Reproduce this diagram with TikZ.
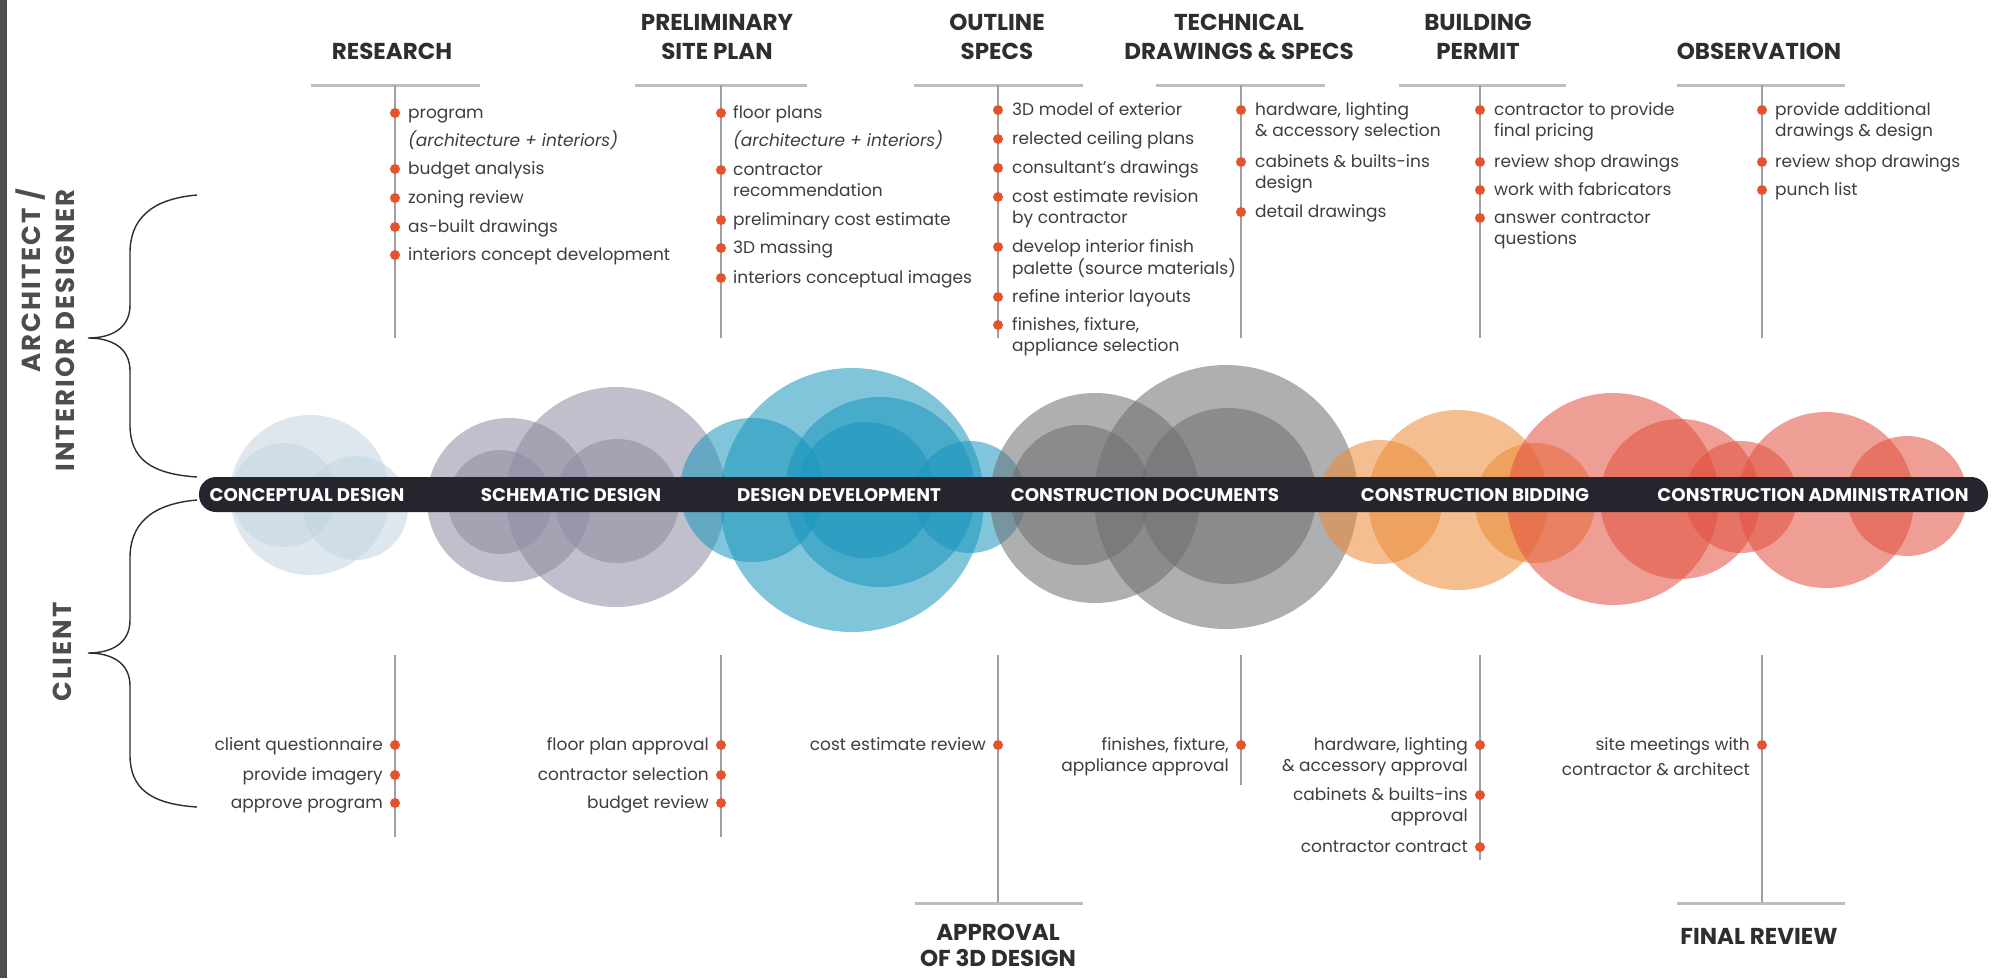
\documentclass[tikz,border=0pt]{standalone}
\usepackage{fontspec}
\setmainfont{Poppins}
\usetikzlibrary{positioning}

\definecolor{ink}{HTML}{2E2E30}
\definecolor{itemink}{HTML}{3E3E40}
\definecolor{dotred}{HTML}{E5522E}
\definecolor{stemgray}{HTML}{A0A0A0}
\definecolor{rulegray}{HTML}{BEBEBE}
\definecolor{barink}{HTML}{24252D}
\definecolor{edgegray}{HTML}{4E4E50}
\definecolor{frost}{HTML}{C4D5E1}
\definecolor{lilac}{HTML}{8E8CA2}
\definecolor{lagoon}{HTML}{1A96BD}
\definecolor{slate}{HTML}{6D6E70}
\definecolor{amber}{HTML}{EC8A35}
\definecolor{coral}{HTML}{E2503F}

\newcommand{\lft}[1]{\begin{tabular}[t]{@{}l@{}}#1\end{tabular}}
\newcommand{\rgt}[1]{\begin{tabular}[t]{@{}r@{}}#1\end{tabular}}

\begin{document}
\begin{tikzpicture}[
    x=1pt, y=-1pt,
    heading/.style={font=\fontsize{23}{29}\selectfont\bfseries, text=ink, align=center, inner sep=0pt},
    item/.style={font=\fontsize{17}{21}\selectfont, text=itemink, anchor=base west, inner sep=0pt},
    citem/.style={item, anchor=base east},
    dot/.style={circle, fill=dotred, inner sep=0pt, minimum size=10pt},
    stem/.style={draw=stemgray, line width=1.3pt},
    rule/.style={draw=rulegray, line width=3pt},
    bubble/.style={fill opacity=0.55},
    phase/.style={font=\fontsize{18.3}{20}\selectfont\bfseries, text=white, inner sep=0pt},
    party/.style={font=\fontsize{26}{34}\selectfont\bfseries\addfontfeatures{LetterSpace=8}, text=ink!85, rotate=90, align=right, inner sep=0pt},
    brace/.style={draw=ink, line width=1.4pt}
]
    \useasboundingbox (0,0) rectangle (2011,978);
    \fill[white] (0,0) rectangle (2011,978);
    \fill[edgegray] (0,0) rectangle (7,978);

    % Bubbles behind the timeline
    \foreach \cx/\cy/\r in {310/495/80pt, 284/495/52pt, 356/508/52pt}
        \fill[frost, bubble] (\cx,\cy) circle [radius=\r];
    \foreach \cx/\cy/\r in {509/500/82pt, 616/497/110pt, 500/502/52pt, 617/501/62pt}
        \fill[lilac, bubble] (\cx,\cy) circle [radius=\r];
    \foreach \cx/\cy/\r in {852/500/132pt, 752/490/72pt, 880/492/95pt, 866/490/68pt, 970/497/56pt}
        \fill[lagoon, bubble] (\cx,\cy) circle [radius=\r];
    \foreach \cx/\cy/\r in {1095/498/105pt, 1226/497/132pt, 1080/495/70pt, 1228/496/88pt}
        \fill[slate, bubble] (\cx,\cy) circle [radius=\r];
    \foreach \cx/\cy/\r in {1380/502/62pt, 1458/500/90pt, 1535/503/60pt}
        \fill[amber, bubble] (\cx,\cy) circle [radius=\r];
    \foreach \cx/\cy/\r in {1613/499/106pt, 1680/499/80pt, 1741/497/56pt, 1826/500/88pt, 1907/496/60pt}
        \fill[coral, bubble] (\cx,\cy) circle [radius=\r];

    % Timeline
    \fill[barink, rounded corners=17pt] (199,477) rectangle (1988,512);
    \node[phase] (concept) at (307,495) {CONCEPTUAL DESIGN};
    \node[phase] (schematic) at (571,495) {SCHEMATIC DESIGN};
    \node[phase] (develop) at (839,495) {DESIGN DEVELOPMENT};
    \node[phase] (documents) at (1145,495) {CONSTRUCTION DOCUMENTS};
    \node[phase] (bidding) at (1475,495) {CONSTRUCTION BIDDING};
    \node[phase] (admin) at (1813,495) {CONSTRUCTION ADMINISTRATION};

    % Parties
    \node[party, anchor=east] (designer) at (45,189) {ARCHITECT /\\INTERIOR DESIGNER};
    \node[party] (client) at (62,652) {CLIENT};
    \draw[brace] (197,195) .. controls (150,199) and (130,220) .. (130,253)
        -- (130,305) .. controls (130,328) and (112,338) .. (88,338)
        .. controls (112,338) and (130,348) .. (130,371)
        -- (130,425) .. controls (130,458) and (150,474) .. (197,477);
    \draw[brace] (197,500) .. controls (150,504) and (130,525) .. (130,558)
        -- (130,620) .. controls (130,643) and (112,653) .. (88,653)
        .. controls (112,653) and (130,663) .. (130,686)
        -- (130,755) .. controls (130,788) and (150,804) .. (197,807);

    % Headings over the stems
    \foreach \n/\x/\hx/\t/\rl/\rr in {res/395/392/RESEARCH/311/480,
            pre/721/717/{PRELIMINARY\\SITE PLAN}/635/807,
            out/998/997/{OUTLINE\\SPECS}/914/1083,
            tec/1241/1239/{TECHNICAL\\DRAWINGS \& SPECS}/1156/1325,
            bui/1480/1478/{BUILDING\\PERMIT}/1399/1566,
            obs/1762/1759/OBSERVATION/1677/1845}{
        \node[heading, anchor=south] (\n) at (\hx,60) {\t};
        \draw[rule] (\rl,85) -- (\rr,85);
        \coordinate (\n top) at (\x,85);
        \coordinate (\n end) at (\x,338);
        \draw[stem] (\n top) -- (\n end);
    }

    % Architect / interior designer tasks
    \foreach \y/\t in {113/{program\\[6pt]\textit{(architecture + interiors)}}, 169/budget analysis,
            198/zoning review, 227/as-built drawings, 255/interiors concept development}{
        \node[dot] (resd\y) at (395,\y) {};
        \node[item] (rest\y) at (408,\y+5) {\lft{\t}};
    }
    \foreach \y/\t in {113/{floor plans\\[6pt]\textit{(architecture + interiors)}}, 170/{contractor\\recommendation},
            220/preliminary cost estimate, 248/3D massing, 278/interiors conceptual images}{
        \node[dot] (pred\y) at (721,\y) {};
        \node[item] (pret\y) at (733,\y+5) {\lft{\t}};
    }
    \foreach \y/\t in {110/3D model of exterior, 139/relected ceiling plans, 168/consultant's drawings,
            197/{cost estimate revision\\by contractor}, 247/{develop interior finish\\palette (source materials)},
            297/refine interior layouts, 325/{finishes, fixture,\\appliance selection}}{
        \node[dot] (outd\y) at (998,\y) {};
        \node[item] (outt\y) at (1012,\y+5) {\lft{\t}};
    }
    \foreach \y/\t in {110/{hardware, lighting\\\& accessory selection}, 162/{cabinets \& builts-ins\\design},
            212/detail drawings}{
        \node[dot] (tecd\y) at (1241,\y) {};
        \node[item] (tect\y) at (1255,\y+5) {\lft{\t}};
    }
    \foreach \y/\t in {110/{contractor to provide\\final pricing}, 162/review shop drawings,
            190/work with fabricators, 218/{answer contractor\\questions}}{
        \node[dot] (buid\y) at (1480,\y) {};
        \node[item] (buit\y) at (1494,\y+5) {\lft{\t}};
    }
    \foreach \y/\t in {110/{provide additional\\drawings \& design}, 162/review shop drawings, 190/punch list}{
        \node[dot] (obsd\y) at (1762,\y) {};
        \node[item] (obst\y) at (1775,\y+5) {\lft{\t}};
    }

    % Client stems
    \foreach \n/\x/\e in {res/395/837, pre/721/837, out/998/903, tec/1241/785, bui/1480/860, obs/1762/903}{
        \coordinate (\n low) at (\x,655);
        \coordinate (\n foot) at (\x,\e);
        \draw[stem] (\n low) -- (\n foot);
    }
    \draw[rule] (915,903) -- (1083,903);
    \draw[rule] (1677,903) -- (1845,903);
    \node[heading, anchor=north] (approval) at (998,924) {APPROVAL\\[-3pt]OF 3D DESIGN};
    \node[heading, anchor=north] (final) at (1759,928) {FINAL REVIEW};

    % Client tasks
    \foreach \y/\t in {745/client questionnaire, 775/provide imagery, 803/approve program}{
        \node[dot] (resc\y) at (395,\y) {};
        \node[citem] (resk\y) at (383,\y+5) {\rgt{\t}};
    }
    \foreach \y/\t in {745/floor plan approval, 775/contractor selection, 803/budget review}{
        \node[dot] (prec\y) at (721,\y) {};
        \node[citem] (prek\y) at (709,\y+5) {\rgt{\t}};
    }
    \node[dot] (outc745) at (998,745) {};
    \node[citem] (outk745) at (986,750) {cost estimate review};
    \node[dot] (tecc745) at (1241,745) {};
    \node[citem] (teck745) at (1229,750) {\rgt{finishes, fixture,\\appliance approval}};
    \foreach \y/\t in {745/{hardware, lighting\\\& accessory approval}, 795/{cabinets \& builts-ins\\approval},
            847/contractor contract}{
        \node[dot] (buic\y) at (1480,\y) {};
        \node[citem] (buik\y) at (1468,\y+5) {\rgt{\t}};
    }
    \node[dot] (obsc745) at (1762,745) {};
    \node[citem] (obsk745) at (1750,750) {\rgt{site meetings with\\[4pt]contractor \& architect}};
\end{tikzpicture}
\end{document}
